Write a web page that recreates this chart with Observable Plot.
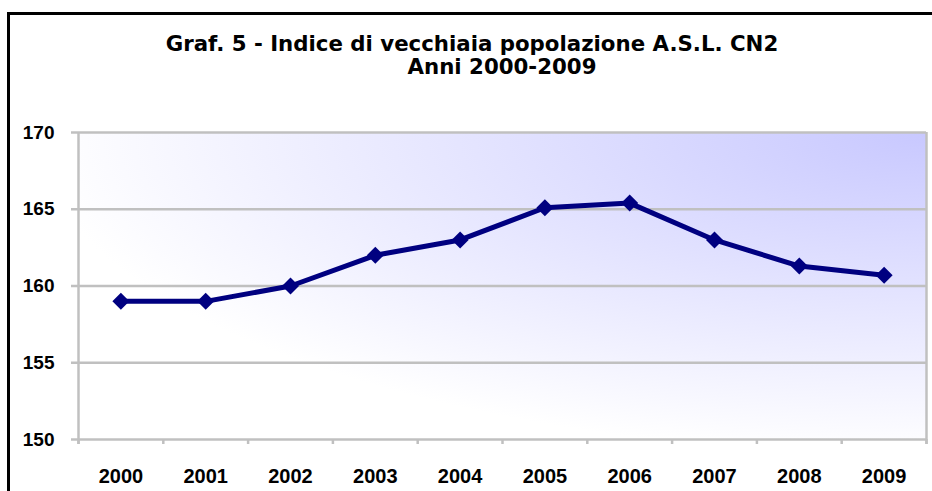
<!DOCTYPE html>
<html>
<head>
<meta charset="utf-8">
<script src="https://cdn.jsdelivr.net/npm/d3@7"></script>
<script src="https://cdn.jsdelivr.net/npm/@observablehq/plot@0.6"></script>
<style>
  html, body { margin: 0; padding: 0; background: #fff; width: 932px; height: 491px; overflow: hidden; }
  #page { position: relative; width: 932px; height: 491px; overflow: hidden; }
  #border { position: absolute; left: 7px; top: 12px; width: 1000px; height: 1000px; border: 3px solid #000; box-sizing: border-box; }
  #title { position: absolute; left: 0; top: 32px; width: 944px; text-align: center;
           font-family: "DejaVu Sans", sans-serif; font-weight: bold;
           font-size: 21.3px; line-height: 23px; color: #000; }
  #title .l2 { position: relative; left: 30px; }
  #chart { position: absolute; left: 0; top: 100px; }
  #chart g[aria-label^="y-axis"] text { font-size: 19px; }
</style>
</head>
<body>
<div id="page">
  <svg width="0" height="0" style="position:absolute">
    <defs>
      <radialGradient id="bg" gradientUnits="objectBoundingBox" cx="1" cy="0" r="1.05" fx="1" fy="0">
        <stop offset="0" stop-color="#c8c8ff"/>
        <stop offset="1" stop-color="#ffffff"/>
      </radialGradient>
    </defs>
  </svg>
  <div id="border"></div>
  <div id="title">Graf. 5 - Indice di vecchiaia popolazione A.S.L. CN2<br><span class="l2">Anni 2000-2009</span></div>
  <div id="chart"></div>
</div>
<script>
const years = ["2000", "2001", "2002", "2003", "2004", "2005", "2006", "2007", "2008", "2009"];
const values = [159.0, 159.0, 160.0, 162.0, 163.0, 165.1, 165.4, 163.0, 161.3, 160.7];
const yTicks = [150, 155, 160, 165, 170];

const data = years.map((y, i) => ({i, year: y, value: values[i]}));
const xDomain = [-0.5, years.length - 0.5];
const boundaries = d3.range(years.length + 1).map(k => k - 0.5);
const yMin = d3.min(yTicks), yMax = d3.max(yTicks);

const diamond = {
  draw(ctx, size) {
    const h = Math.sqrt(size / Math.PI);
    ctx.moveTo(0, -h);
    ctx.lineTo(h, 0);
    ctx.lineTo(0, h);
    ctx.lineTo(-h, 0);
    ctx.closePath();
  }
};

const grid = "#c0c0c0";

const chart = Plot.plot({
  width: 932,
  height: 391,
  marginLeft: 78,
  marginRight: 6,
  marginTop: 32,
  marginBottom: 52,
  style: {
    fontFamily: "'Liberation Sans', Arial, sans-serif",
    fontWeight: "bold",
    fontSize: "20px",
    color: "#000",
    background: "transparent",
    overflow: "visible"
  },
  x: {
    type: "linear",
    domain: xDomain,
    ticks: d3.range(years.length),
    tickFormat: i => years[i],
    tickSize: 0,
    tickPadding: 29,
    label: null
  },
  y: {
    domain: [yMin, yMax],
    ticks: yTicks,
    tickSize: 0,
    tickPadding: 24,
    label: null
  },
  marks: [
    Plot.frame({fill: "url(#bg)", stroke: "none"}),
    Plot.ruleY(yTicks, {stroke: grid, strokeWidth: 2.5, insetLeft: -7}),
    Plot.ruleX(boundaries, {x: d => d, y1: yMin, y2: yMin, insetBottom: -5, stroke: grid, strokeWidth: 2.5}),
    Plot.ruleX(xDomain, {x: d => d, stroke: grid, strokeWidth: 2.5, insetBottom: -5}),
    Plot.line(data, {x: "i", y: "value", stroke: "#000080", strokeWidth: 5, strokeLinejoin: "round"}),
    Plot.dot(data, {x: "i", y: "value", symbol: diamond, r: 8.5, fill: "#000080", stroke: "none"})
  ]
});
document.getElementById("chart").appendChild(chart);
</script>
</body>
</html>
